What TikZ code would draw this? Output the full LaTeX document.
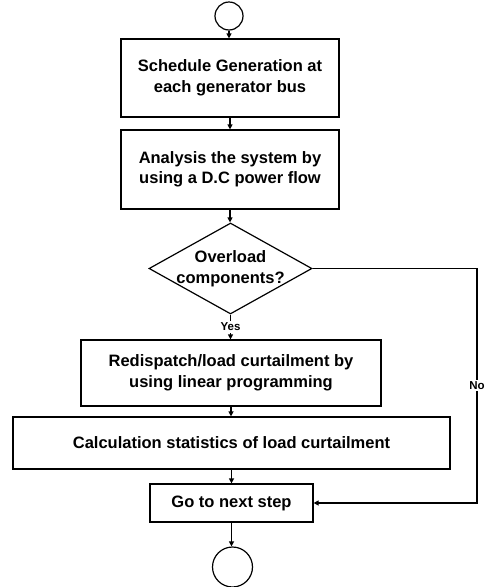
\documentclass[tikz,border=0pt]{standalone}
\usepackage{fontspec}
\setmainfont{Liberation Sans}
\usetikzlibrary{shapes.geometric,arrows.meta}
\begin{document}
\begin{tikzpicture}[x=1pt,y=-1pt,
  line width=1.2pt,
  boxtext/.style={font=\fontsize{16.5}{20.5}\selectfont\bfseries},
  procbox/.style={draw,rectangle,inner sep=0pt,align=center,boxtext},
  term/.style={draw,circle,inner sep=0pt},
  decbox/.style={draw,diamond,inner sep=0pt,minimum width=163pt,minimum height=91pt},
  arr/.style={-{Triangle[length=5pt,width=5pt]}},
  small/.style={font=\fontsize{11.5}{13}\selectfont\bfseries,fill=white,inner sep=1.5pt}
]
\useasboundingbox (0,0) rectangle (488,587);

\node[term,minimum size=28pt] (start) at (229,16) {};
\node[procbox,minimum width=218pt,minimum height=78pt] (b1) at (230,78)
  {Schedule Generation at\\each generator bus};
\node[procbox,minimum width=218pt,minimum height=79pt] (b2) at (230,169.5)
  {Analysis the system by\\using a D.C power flow};
\node[decbox,label={[boxtext,align=center]center:Overload\\components?}] (dec) at (230.5,268.5) {};
\node[procbox,minimum width=300pt,minimum height=66pt] (b3) at (231,373)
  {Redispatch/load curtailment by\\using linear programming};
\node[procbox,minimum width=437pt,minimum height=52pt] (b4) at (231.5,443)
  {Calculation statistics of load curtailment};
\node[procbox,minimum width=163pt,minimum height=38pt] (b5) at (231.5,503)
  {Go to next step};
\node[term,minimum size=40pt] (stop) at (232.5,567) {};

\coordinate (c1) at (477,268.5);
\coordinate (c2) at (477,503);

\draw[arr] (start.south) -- (start.south |- b1.north);
\draw[arr] (b1.south) -- (b1.south |- b2.north);
\draw[arr] (b2.south) -- (b2.south |- dec.north);
\draw[arr] (dec.south) -- node[small]{Yes} (dec.south |- b3.north);
\draw[arr] (b3.south) -- (b3.south |- b4.north);
\draw[arr] (b4.south) -- (b4.south |- b5.north);
\draw[arr] (b5.south) -- (b5.south |- stop.north);
\draw[arr] (dec.east) -- (c1) -- node[small]{No} (c2) -- (b5.east);
\end{tikzpicture}
\end{document}
